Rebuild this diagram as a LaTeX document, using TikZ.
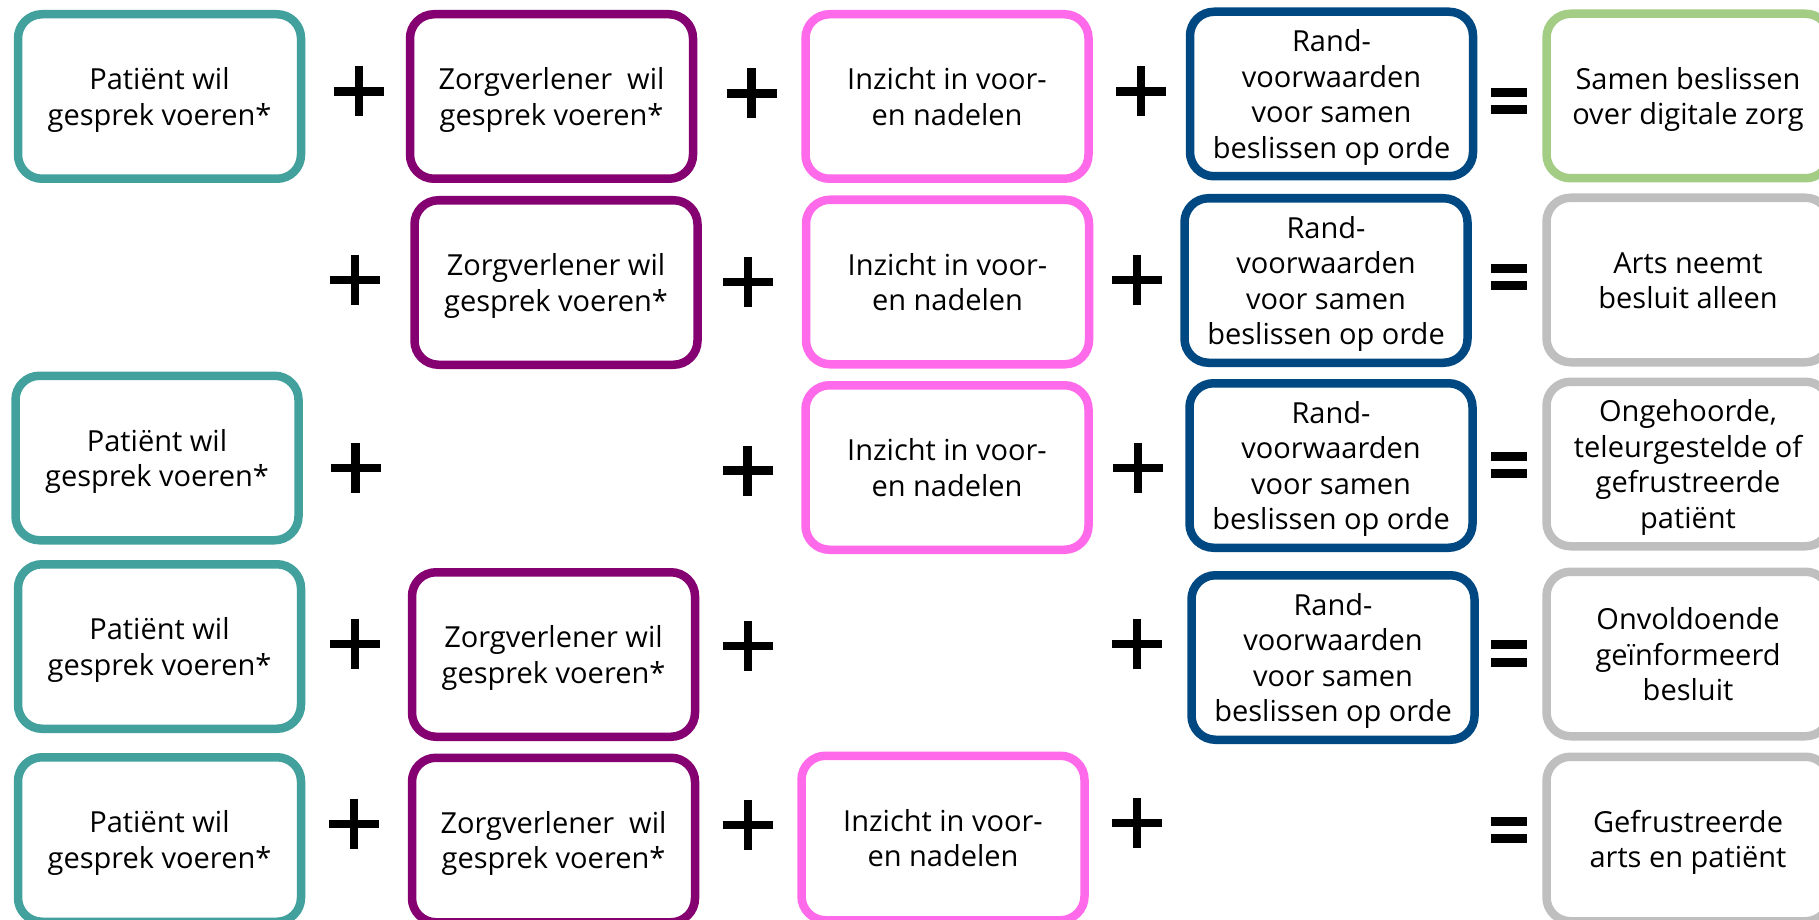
\documentclass[tikz,border=0pt]{standalone}
\usepackage{fontspec}
\setmainfont{Open Sans}
\definecolor{cteal}{HTML}{42A19D}
\definecolor{cpurple}{HTML}{850071}
\definecolor{cpink}{HTML}{FF6AEB}
\definecolor{cblue}{HTML}{004882}
\definecolor{cgreen}{HTML}{A3CC85}
\definecolor{cgray}{HTML}{BFBFBF}
\newcommand\Lfirst{\rule{0pt}{26pt}}
\newcommand\Llast[1]{\smash{#1}\rule[-4pt]{0pt}{4pt}}
\begin{document}
\begin{tikzpicture}[x=1pt,y=-1pt,
  box/.style={draw, line width=8.5pt, rounded corners=24pt,
    minimum width=283pt, minimum height=164.5pt, inner sep=0pt,
    align=center, text=black, fill=white,
    font=\fontsize{29}{35.5}\selectfont},
  pat/.style={box, draw=cteal},
  zorg/.style={box, draw=cpurple},
  inz/.style={box, draw=cpink},
  rand/.style={box, draw=cblue},
  good/.style={box, draw=cgreen},
  bad/.style={box, draw=cgray},
  plussign/.pic={\fill[black] (-25,-4.3) rectangle (25,4.3);
                 \fill[black] (-4.3,-25) rectangle (4.3,25);},
  eqsign/.pic={\fill[black] (-18,-13.2) rectangle (18,-4.4);
               \fill[black] (-18,4.4) rectangle (18,13.2);}
]
\useasboundingbox (0,0) rectangle (1819,920);
\clip (0,0) rectangle (1819,920);
\fill[white] (0,0) rectangle (1819,920);

% Row 1
\node[pat]  (a1) at (159.5,96.5) {\Lfirst Patiënt wil\\\Llast{gesprek voeren*}};
\node[zorg] (b1) at (551.5,96.5) {\Lfirst Zorgverlener~ wil\\\Llast{gesprek voeren*}};
\node[inz]  (c1) at (947,96.5) {\Lfirst Inzicht in voor-\\\Llast{en nadelen}};
\node[rand] (d1) at (1331.5,94) {\Lfirst Rand-\\voorwaarden\\voor samen\\\Llast{beslissen op orde}};
\node[good] (e1) at (1688,96) {\Lfirst Samen beslissen\\\Llast{over digitale zorg}};
\pic at (359,91.5) {plussign};
\pic at (751.5,93.5) {plussign};
\pic at (1141,91.5) {plussign};
\pic at (1509,101) {eqsign};

% Row 2
\node[zorg] (b2) at (556,282.5) {\Lfirst Zorgverlener wil\\\Llast{gesprek voeren*}};
\node[inz]  (c2) at (947.5,282) {\Lfirst Inzicht in voor-\\\Llast{en nadelen}};
\node[rand] (d2) at (1326,280.5) {\Lfirst Rand-\\voorwaarden\\voor samen\\\Llast{beslissen op orde}};
\node[bad]  (e2) at (1688,280) {\Lfirst Arts neemt\\\Llast{besluit alleen}};
\pic at (355,280) {plussign};
\pic at (748,282) {plussign};
\pic at (1137,280) {plussign};
\pic at (1509,277) {eqsign};

% Row 3
\node[pat]  (a3) at (157,458) {\Lfirst Patiënt wil\\\Llast{gesprek voeren*}};
\node[inz]  (c3) at (947,467.5) {\Lfirst Inzicht in voor-\\\Llast{en nadelen}};
\node[rand] (d3) at (1331,465.5) {\Lfirst Rand-\\voorwaarden\\voor samen\\\Llast{beslissen op orde}};
\node[bad]  (e3) at (1688,464) {\Lfirst Ongehoorde,\\teleurgestelde of\\gefrustreerde\\\Llast{patiënt}};
\pic at (355.5,468) {plussign};
\pic at (747.5,470.5) {plussign};
\pic at (1138,468) {plussign};
\pic at (1509,465) {eqsign};

% Row 4
\node[pat]  (a4) at (159.5,646.5) {\Lfirst Patiënt wil\\\Llast{gesprek voeren*}};
\node[zorg] (b4) at (553.5,654.5) {\Lfirst Zorgverlener wil\\\Llast{gesprek voeren*}};
\node[rand] (d4) at (1333,657.5) {\Lfirst Rand-\\voorwaarden\\voor samen\\\Llast{beslissen op orde}};
\node[bad]  (e4) at (1688,654) {\Lfirst Onvoldoende\\geïnformeerd\\\Llast{besluit}};
\pic at (355,644) {plussign};
\pic at (748,646) {plussign};
\pic at (1137,644) {plussign};
\pic at (1509,653.5) {eqsign};

% Row 5
\node[pat]  (a5) at (159.5,839.5) {\Lfirst Patiënt wil\\\Llast{gesprek voeren*}};
\node[zorg] (b5) at (553.5,840) {\Lfirst Zorgverlener~ wil\\\Llast{gesprek voeren*}};
\node[inz]  (c5) at (943,838) {\Lfirst Inzicht in voor-\\\Llast{en nadelen}};
\node[bad]  (e5) at (1688,839) {\Lfirst Gefrustreerde\\\Llast{arts en patiënt}};
\pic at (354,824) {plussign};
\pic at (748,825) {plussign};
\pic at (1137,823) {plussign};
\pic at (1509,830) {eqsign};
\end{tikzpicture}
\end{document}
